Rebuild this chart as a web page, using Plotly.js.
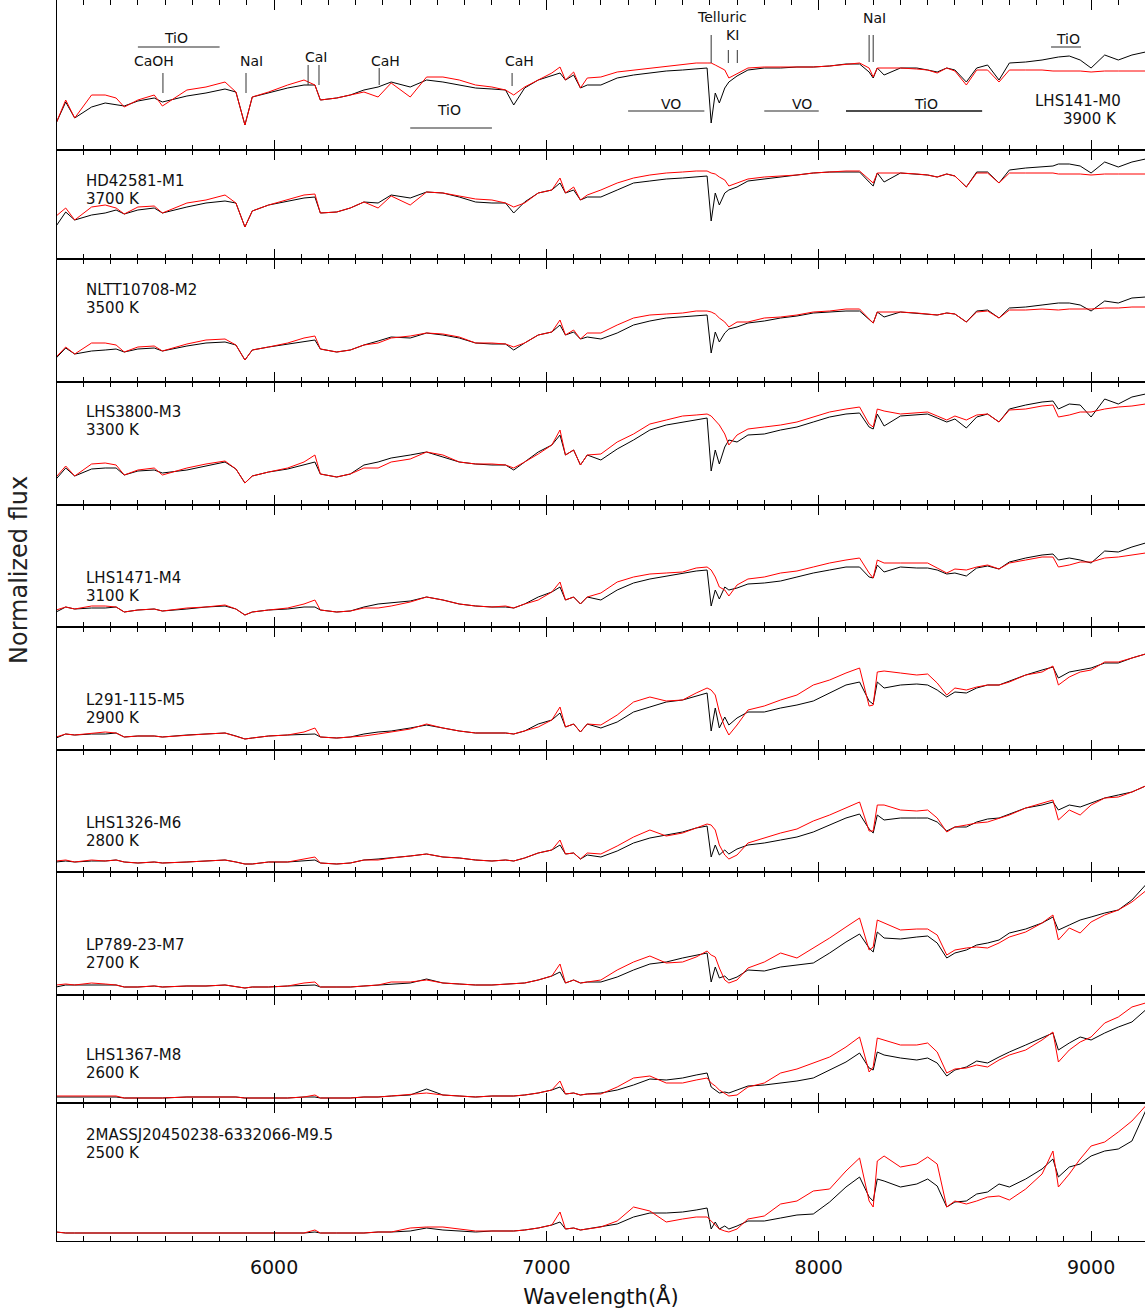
<!DOCTYPE html>
<html>
<head>
<meta charset="utf-8">
<script src="https://cdn.plot.ly/plotly-3.0.1.min.js"></script>
<style>
html,body{margin:0;padding:0;background:#fff;}
#chart{width:1145px;height:1310px;}
</style>
</head>
<body>
<div id="chart"></div>
<script>
// ---------------- DATA ----------------
const wavelength = [5200,5235,5268,5330,5380,5420,5450,5500,5560,5590,5680,5750,5820,5860,5893,5920,5980,6050,6110,6150,6170,6230,6280,6330,6382,6430,6500,6560,6620,6680,6740,6800,6850,6880,6920,6970,7020,7050,7070,7100,7125,7150,7200,7260,7320,7380,7440,7500,7550,7590,7605,7620,7635,7655,7670,7700,7740,7800,7860,7920,7980,8040,8100,8150,8185,8200,8215,8240,8300,8360,8400,8435,8470,8500,8542,8580,8620,8662,8700,8760,8820,8860,8880,8920,8960,9000,9050,9100,9150,9200];

const starNames = ['LHS141-M0','HD42581-M1','NLTT10708-M2','LHS3800-M3','LHS1471-M4','L291-115-M5','LHS1326-M6','LP789-23-M7','LHS1367-M8','2MASSJ20450238-6332066-M9.5'];
const teffK = [3900,3700,3500,3300,3100,2900,2800,2700,2600,2500];

// observed spectra (black), normalized flux, arbitrary units
const observedM0 = [27,48,32,43,47,45,44,49,52,48, 54,57,61,58,25,53,57,62,65,65, 50,52,55,60,63,68,63,70,68,65, 62,61,60,45,62,70,74,77,70,75, 62,65,65,72,75,77,79,80,81,82, 27,57,47,62,68,74,80,82,82,83, 83,84,86,86,78,72,82,75,82,82, 80,78,82,80,68,82,85,70,87,88, 90,92,93,94,90,82,95,90,95,98];
const observedM1 = [33,47,39,44,46,49,45,49,51,46, 52,56,58,56,32,48,54,58,61,62, 46,47,51,57,56,64,61,67,66,62, 57,56,56,46,57,66,69,76,66,69, 59,62,62,69,76,78,80,81,82,83, 38,66,54,66,69,72,78,80,82,84, 86,87,87,87,77,73,86,77,86,85, 84,82,85,83,72,87,87,76,89,91, 92,93,95,95,93,86,97,92,97,100];
const observedM2 = [24,34,28,31,32,33,30,33,34,31, 36,39,40,37,22,32,35,38,40,42, 33,30,32,37,41,45,44,49,47,44, 39,38,38,32,39,47,50,57,47,50, 43,45,43,49,57,61,64,65,66,67, 29,50,40,49,53,55,59,61,64,66, 69,70,71,71,62,59,70,65,70,69, 68,67,69,68,60,71,72,64,74,75, 77,78,79,79,77,71,81,79,84,85];
const observedM3 = [26,37,29,36,37,37,30,34,35,32, 35,39,43,36,22,29,33,36,40,43, 31,28,31,40,43,47,50,53,48,43, 41,40,40,35,43,53,60,70,50,55, 40,50,45,56,65,75,80,83,85,87, 34,55,41,58,65,63,70,71,75,78, 83,88,91,92,78,76,91,79,89,90, 91,87,83,86,77,88,91,83,96,100, 103,104,96,101,100,88,106,101,108,111];
const observedM4 = [15,20,18,19,19,20,15,17,18,16, 18,20,21,18,12,15,17,18,20,20, 17,15,16,20,23,24,26,30,27,23, 21,20,20,19,23,30,35,40,27,30, 23,30,27,37,44,48,51,54,56,57, 21,37,28,40,37,39,43,44,46,50, 54,57,60,60,50,49,62,55,60,59, 59,57,53,54,51,59,61,58,65,69, 72,73,67,69,67,64,76,75,80,84];
const observedM5 = [12,16,15,16,16,17,13,14,14,13, 15,16,17,14,11,12,14,15,16,16, 13,12,13,16,18,19,22,25,22,19, 17,17,17,16,19,26,30,37,23,26, 18,26,22,28,38,43,48,50,54,57, 19,42,22,33,25,32,38,38,42,45, 49,57,65,68,49,46,68,62,65,66, 65,60,53,58,57,62,65,65,69,75, 80,83,72,78,80,82,87,87,92,96];
const observedM6 = [10,11,10,11,11,12,10,9,10,9, 10,11,12,10,8,8,10,10,11,12, 9,8,9,12,13,14,16,18,15,14, 12,11,12,11,14,19,22,27,18,19, 13,17,15,21,29,34,37,40,44,46, 15,27,17,22,18,23,27,29,32,35, 40,47,54,58,43,39,57,52,54,54, 54,50,41,45,45,50,53,54,58,64, 67,70,62,67,65,69,74,77,80,86];
const observedM7 = [8,10,10,10,10,10,8,8,9,8, 9,9,10,8,7,8,8,9,10,10, 8,8,8,9,10,11,12,16,12,11, 10,10,11,11,12,15,19,23,12,15, 12,13,13,18,25,31,33,37,40,42, 13,28,17,19,15,18,25,24,28,30, 32,42,53,61,47,43,63,57,56,58, 59,52,37,42,45,50,52,55,62,66, 72,78,65,70,75,78,82,85,95,110];
const observedM8 = [6,6,6,6,6,6,5,5,5,5, 6,6,6,6,5,5,5,5,6,6, 5,5,5,6,6,7,8,14,8,7, 6,7,7,7,8,10,13,16,9,10, 8,9,10,13,18,24,23,25,28,30, 16,13,10,11,10,13,17,18,20,22, 25,33,41,50,35,33,51,48,45,43, 45,40,27,33,36,42,40,46,51,58, 65,70,53,60,66,63,70,76,81,93];
const observedM95 = [9,8,8,8,8,8,8,8,8,8, 8,8,8,8,8,8,8,8,8,9, 8,8,8,8,9,9,10,13,11,10, 9,10,10,10,11,13,16,19,12,13, 11,12,14,17,24,28,28,29,31,33, 12,19,12,15,12,15,20,20,23,26, 27,39,54,64,44,40,62,60,54,57, 62,55,34,39,40,47,49,57,54,62, 72,82,64,74,77,85,90,92,100,130];

// model spectra (red)
const modelM0 = [27,50,32,55,55,52,43,50,55,44, 60,63,68,58,25,53,58,65,70,65, 50,52,55,58,53,67,53,73,73,70, 65,63,60,55,63,70,77,83,70,78, 62,72,73,78,80,82,84,86,87,87, 87,85,83,80,72,76,82,83,83,83, 83,84,86,87,82,73,82,82,82,81, 80,77,82,79,65,80,80,68,80,80, 80,79,79,79,79,78,79,79,79,79];
const modelM1 = [43,51,39,52,54,51,45,52,53,46, 56,59,64,56,32,48,54,59,64,65, 46,47,51,57,51,63,54,67,66,63, 60,59,56,52,56,66,69,81,66,72, 59,64,69,76,81,84,86,87,88,88, 86,85,82,79,73,76,80,82,83,84, 86,87,88,88,79,76,86,86,86,85, 84,82,85,83,72,86,86,76,86,86, 86,86,85,85,85,84,85,85,85,85];
const modelM2 = [25,35,28,39,39,37,30,35,36,31, 38,42,43,37,22,32,35,39,44,46, 33,30,32,37,39,44,46,49,48,45, 39,39,38,35,39,47,50,62,47,52, 43,49,49,57,64,67,68,69,71,71, 70,68,64,60,55,60,60,64,65,67, 70,71,73,73,63,59,70,70,70,69, 68,67,69,68,60,70,71,64,72,72, 73,72,72,73,73,73,74,74,75,75];
const modelM3 = [28,39,29,41,42,40,30,35,37,30, 37,41,44,36,22,29,33,37,43,50, 31,28,31,37,37,43,46,53,50,43, 41,41,40,37,43,51,60,75,50,55, 40,50,51,63,71,81,85,89,90,91, 89,85,80,71,60,70,76,78,80,83, 88,93,96,98,81,78,96,94,91,92, 93,89,85,89,85,90,91,83,95,96, 99,100,88,90,93,93,96,98,99,101];
const modelM4 = [17,20,18,21,21,20,15,17,18,16, 19,20,22,18,12,15,17,19,23,27, 17,15,16,19,19,21,25,30,27,23, 21,20,21,19,23,27,35,45,27,30, 23,30,34,45,50,53,54,55,59,60, 57,50,40,37,31,42,48,50,54,56, 60,64,67,69,54,49,67,64,64,64, 64,59,54,58,57,60,62,58,64,67, 70,70,60,62,65,65,69,70,72,74];
const modelM5 = [13,16,15,17,18,17,13,14,14,13, 15,16,17,14,11,12,14,15,18,22, 13,12,13,14,16,18,21,26,22,19, 17,17,17,16,19,23,30,43,23,26, 18,26,25,35,48,53,49,50,57,62, 60,55,38,23,15,25,40,44,50,55, 65,70,77,82,44,45,78,79,77,75, 76,67,55,62,60,63,65,65,68,75, 78,84,65,73,78,80,88,88,92,96];
const modelM6 = [11,12,10,12,11,12,10,9,10,9, 10,11,12,10,8,8,10,10,13,15, 9,8,9,12,12,14,16,18,15,14, 12,11,12,11,14,19,22,32,18,19, 13,19,18,26,35,42,36,39,44,48, 47,42,27,17,13,17,29,34,39,43, 51,57,64,70,41,41,67,67,62,61, 62,54,40,45,47,49,50,54,57,64, 69,72,52,62,57,67,74,75,80,86];
const modelM7 = [10,11,10,12,11,10,8,8,9,8, 9,9,10,8,7,8,8,9,12,13, 8,8,8,9,10,13,13,15,12,11, 10,10,11,11,12,15,19,31,12,15, 12,13,15,25,33,39,32,33,38,44, 40,38,27,15,12,15,27,33,42,37, 47,57,68,77,45,48,75,72,65,66, 66,60,40,45,47,48,47,52,58,63, 72,80,55,67,62,73,80,85,93,104];
const modelM8 = [7,7,7,7,7,7,5,5,5,5, 6,6,6,6,5,5,5,5,6,8, 5,5,5,6,6,7,9,10,8,7, 6,7,7,7,8,10,13,22,9,10, 8,9,9,16,25,27,20,20,23,25, 20,17,13,10,7,8,16,20,30,34, 40,46,56,66,31,36,65,63,58,58, 60,51,30,34,35,38,36,43,48,53, 63,71,41,53,61,66,80,86,96,100];
const modelM95 = [9,8,8,8,8,8,8,8,8,8, 8,8,8,8,8,8,8,8,8,11, 8,8,8,8,9,9,13,14,14,12, 10,10,10,10,11,13,16,29,12,13, 11,12,14,20,34,30,19,22,24,24, 20,15,12,10,9,12,22,25,37,40, 50,52,70,83,40,34,80,85,74,77, 84,77,34,40,37,40,44,45,41,52, 67,90,54,67,82,95,99,109,120,135];

// spectral feature identifications in the top panel
const featureLabels = ['TiO','CaOH','NaI','CaI','CaH','TiO','CaH','Telluric','KI','VO','VO','TiO','NaI','TiO'];
const featureLabelX = [5640,5559,5916,6154,6408,6643,6903,7645,7685,7458,7939,8394,8203,8916];
const featureLabelY = [112,89,89,93,89,40,89,133,115,46,46,46,132,111];
const lineMarkX  = [5592,5897,6125,6165,6386,6874,7605,7668,7701,8185,8200];
const lineMarkY0 = [57,57,65,65,65,64,87,87,87,88,88];
const lineMarkY1 = [77,77,85,85,82,77,115,100,100,115,115];
const bandStart = [5500,6500,7300,7800,8100,8853];
const bandEnd   = [5800,6800,7580,8000,8600,8963];
const bandY     = [103,22,39,39,39,103];
const bandDark  = [false,false,false,false,true,false];

const observed = [observedM0,observedM1,observedM2,observedM3,observedM4,observedM5,observedM6,observedM7,observedM8,observedM95];
const model = [modelM0,modelM1,modelM2,modelM3,modelM4,modelM5,modelM6,modelM7,modelM8,modelM95];

// ---------------- LAYOUT ----------------
const W = 1145, H = 1310, ML = 57, MB = 69;
const plotH = H - MB;           // 1241
const panelTop = [0,150,259,382,505,627,750,872,995,1103];
const panelBot = [150,259,382,505,627,750,872,995,1103,1241];
const labelOffset = [0,31,31,30,73,73,73,73,60,32];
const FONT = "'DejaVu Sans ExtraLight', 'DejaVu Sans', Verdana, sans-serif";
const TXT = '#111';

const traces = [];
const layout = {
  width: W, height: H,
  margin: {l: ML, r: 0, t: 0, b: MB, pad: 0},
  paper_bgcolor: '#fff', plot_bgcolor: '#fff',
  showlegend: false,
  font: {family: FONT, color: TXT},
  annotations: [], shapes: []
};

for (let i = 0; i < 10; i++) {
  const sfx = i === 0 ? '' : String(i + 1);
  const xa = 'xaxis' + sfx, ya = 'yaxis' + sfx;
  const hpx = panelBot[i] - panelTop[i];
  layout[xa] = {
    anchor: 'y' + sfx,
    domain: [0, 1],
    range: [5203, 9198],
    showline: true, linecolor: '#000', linewidth: 1, mirror: 'ticks',
    ticks: 'inside', ticklen: 10, tickwidth: 1, tickcolor: '#000',
    tick0: 0, dtick: 1000,
    minor: {ticks: 'inside', ticklen: 5, tickwidth: 1, tickcolor: '#000', tick0: 0, dtick: 100, showgrid: false},
    showgrid: false, zeroline: false,
    showticklabels: i === 9,
    ticklabelstandoff: 9,
    tickfont: {family: FONT, size: 19, color: TXT},
    fixedrange: true
  };
  if (i === 9) {
    layout[xa].title = {text: 'Wavelength(Å)', font: {family: FONT, size: 21, color: TXT}, standoff: 12};
  }
  layout[ya] = {
    anchor: 'x' + sfx,
    domain: [(plotH - panelBot[i]) / plotH, (plotH - panelTop[i]) / plotH],
    range: [0, hpx],
    showline: true, linecolor: '#000', linewidth: 1, mirror: true,
    ticks: '', showticklabels: false, showgrid: false, zeroline: false,
    fixedrange: true
  };
  traces.push({
    x: wavelength, y: observed[i], xaxis: 'x' + sfx, yaxis: 'y' + sfx,
    type: 'scatter', mode: 'lines', line: {color: '#000', width: 1},
    name: starNames[i] + ' observed', hoverinfo: 'skip'
  });
  traces.push({
    x: wavelength, y: model[i], xaxis: 'x' + sfx, yaxis: 'y' + sfx,
    type: 'scatter', mode: 'lines', line: {color: '#ff0000', width: 1},
    name: starNames[i] + ' model', hoverinfo: 'skip'
  });

  // star labels
  if (i === 0) {
    layout.annotations.push({xref: 'paper', yref: 'paper', x: (1123 - ML) / (W - ML), y: (plotH - 101) / plotH,
      xanchor: 'right', yanchor: 'middle', text: starNames[i], showarrow: false, font: {family: FONT, size: 15, color: TXT}});
    layout.annotations.push({xref: 'paper', yref: 'paper', x: (1119 - ML) / (W - ML), y: (plotH - 118.5) / plotH,
      xanchor: 'right', yanchor: 'middle', text: teffK[i] + ' K', showarrow: false, font: {family: FONT, size: 15, color: TXT}});
  } else {
    const y1 = panelTop[i] + labelOffset[i];
    layout.annotations.push({xref: 'paper', yref: 'paper', x: (84 - ML) / (W - ML), y: (plotH - y1) / plotH,
      xanchor: 'left', yanchor: 'middle', text: starNames[i], showarrow: false, font: {family: FONT, size: 15, color: TXT}});
    layout.annotations.push({xref: 'paper', yref: 'paper', x: (84 - ML) / (W - ML), y: (plotH - y1 - 18) / plotH,
      xanchor: 'left', yanchor: 'middle', text: teffK[i] + ' K', showarrow: false, font: {family: FONT, size: 15, color: TXT}});
  }
}

// feature identifications (top panel)
featureLabels.forEach((t, k) => {
  layout.annotations.push({xref: 'x', yref: 'y', x: featureLabelX[k], y: featureLabelY[k],
    xanchor: 'center', yanchor: 'middle', text: t, showarrow: false, font: {family: FONT, size: 14, color: TXT}});
});
lineMarkX.forEach((x, k) => {
  layout.shapes.push({type: 'line', xref: 'x', yref: 'y', x0: x, x1: x, y0: lineMarkY0[k], y1: lineMarkY1[k],
    line: {color: '#333', width: 1}});
});
bandStart.forEach((x0, k) => {
  layout.shapes.push({type: 'line', xref: 'x', yref: 'y', x0: x0, x1: bandEnd[k], y0: bandY[k], y1: bandY[k],
    line: {color: bandDark[k] ? '#111' : '#707070', width: 1.5}});
});

// y-axis title
layout.annotations.push({xref: 'paper', yref: 'paper', x: (19 - ML) / (W - ML), y: (plotH - 570) / plotH,
  xanchor: 'center', yanchor: 'middle', textangle: -90, text: 'Normalized flux', showarrow: false,
  font: {family: FONT, size: 24, color: '#222'}});

Plotly.newPlot('chart', traces, layout, {staticPlot: true, displayModeBar: false});
</script>
</body>
</html>
